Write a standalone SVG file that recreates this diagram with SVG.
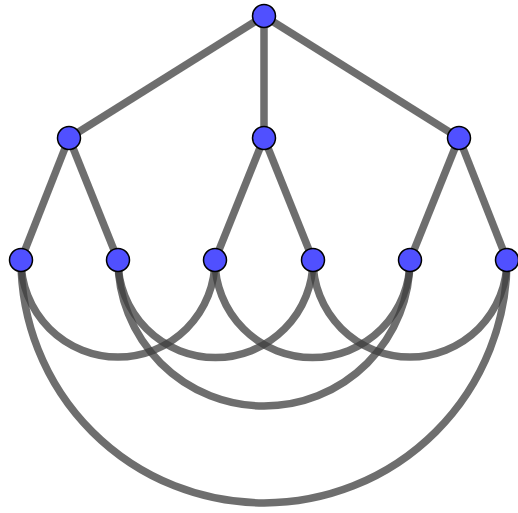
<svg xmlns="http://www.w3.org/2000/svg" width="518" height="513" viewBox="0 0 518 513">
<style>
.e{fill:none;stroke:#3e3e3e;stroke-opacity:0.75;stroke-width:7.5}
.n{fill:#5050ff;stroke:#000;stroke-width:1.5}
</style>
<rect width="518" height="513" fill="#fff"/>
<g id="edges">
<path class="e" d="M264 16L69 138"/>
<path class="e" d="M264 16L264 138"/>
<path class="e" d="M264 16L459 138"/>
<path class="e" d="M69 138L21 260"/>
<path class="e" d="M69 138L118 260"/>
<path class="e" d="M264 138L215 260"/>
<path class="e" d="M264 138L313 260"/>
<path class="e" d="M459 138L410 260"/>
<path class="e" d="M459 138L507 260"/>
<path class="e" d="M21 260A97 97 0 0 0 215 260"/>
<path class="e" d="M118 260A97.5 97.5 0 0 0 313 260"/>
<path class="e" d="M215 260A97.5 97.5 0 0 0 410 260"/>
<path class="e" d="M313 260A97 97 0 0 0 507 260"/>
<path class="e" d="M118 260A146 146 0 0 0 410 260"/>
<path class="e" d="M21 260A243 243 0 0 0 507 260"/>
</g>
<g id="n0"><circle class="n" cx="264" cy="16" r="11.5"/></g>
<g id="n1"><circle class="n" cx="69" cy="138" r="11.5"/></g>
<g id="n2"><circle class="n" cx="264" cy="138" r="11.5"/></g>
<g id="n3"><circle class="n" cx="459" cy="138" r="11.5"/></g>
<g id="n4"><circle class="n" cx="21" cy="260" r="11.5"/></g>
<g id="n5"><circle class="n" cx="118" cy="260" r="11.5"/></g>
<g id="n6"><circle class="n" cx="215" cy="260" r="11.5"/></g>
<g id="n7"><circle class="n" cx="313" cy="260" r="11.5"/></g>
<g id="n8"><circle class="n" cx="410" cy="260" r="11.5"/></g>
<g id="n9"><circle class="n" cx="507" cy="260" r="11.5"/></g>
</svg>
